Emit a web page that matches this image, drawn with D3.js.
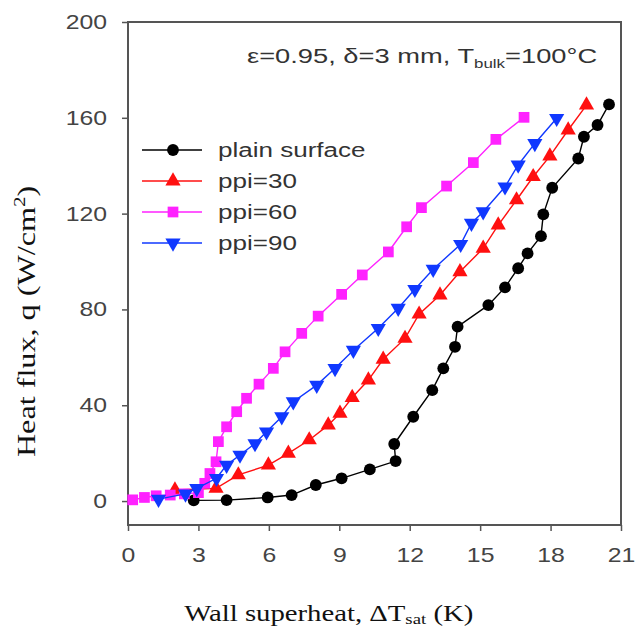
<!DOCTYPE html>
<html>
<head>
<meta charset="utf-8">
<script src="https://cdn.jsdelivr.net/npm/d3@7"></script>
<style>
  body { margin: 0; background: #fff; }
</style>
</head>
<body>
<div id="chart"></div>
<script>
// data
var plainX = [2.8, 4.2, 5.95, 6.97, 8.0, 9.1, 10.3, 11.4, 11.34, 12.15, 12.96, 13.43, 13.93, 14.04, 15.35, 16.06, 16.62, 17.02, 17.59, 17.69, 18.07, 19.18, 19.42, 20.0, 20.49];
var plainQ = [0.3, 0.4, 1.5, 2.5, 6.7, 9.5, 13.2, 16.7, 23.8, 35.2, 46.3, 55.4, 64.4, 72.8, 81.8, 89.2, 97.2, 103.4, 110.6, 119.7, 130.8, 143, 152.1, 157, 165.6];

var ppi30X = [2.0, 3.75, 4.7, 5.98, 6.83, 7.72, 8.53, 9.03, 9.55, 10.24, 10.87, 11.8, 12.4, 13.29, 14.14, 15.13, 15.77, 16.55, 17.26, 17.97, 18.75, 19.53];
var ppi30Q = [4.6, 5.3, 10.9, 15, 19.9, 25.5, 31.7, 36.6, 43.2, 50.5, 59.2, 67.9, 78, 86, 95.7, 105.5, 115.2, 125.7, 135.4, 144, 154.9, 165.3];

var ppi60X = [0.2, 0.7, 1.2, 1.8, 2.4, 3.0, 3.27, 3.49, 3.75, 3.85, 4.2, 4.63, 5.05, 5.58, 6.19, 6.69, 7.4, 8.1, 9.1, 9.98, 11.09, 11.87, 12.5, 13.57, 14.71, 15.67, 16.87];
var ppi60Q = [0.5, 1.5, 2.2, 2.5, 3.0, 3.5, 7.4, 11.5, 16.4, 24.8, 31, 37.3, 42.9, 48.8, 55.4, 62.3, 70, 77.2, 86.3, 94.4, 104, 114.5, 122.5, 131.5, 141.3, 151, 160.2];

var ppi90X = [1.3, 2.45, 2.93, 3.77, 4.2, 4.77, 5.41, 5.9, 6.55, 7.04, 8.04, 8.82, 9.6, 10.66, 11.51, 12.22, 13.0, 14.17, 14.63, 15.13, 16.06, 16.62, 17.33, 18.26];
var ppi90Q = [0.8, 3.0, 5.3, 9.5, 15, 19.2, 24, 28.9, 35.2, 41.5, 48.4, 55.4, 63, 72.1, 80.5, 88.4, 96.8, 107.2, 116, 120.8, 131.2, 140.3, 149.3, 159.8];

var xTicks = [0, 3, 6, 9, 12, 15, 18, 21];
var yTicks = [0, 40, 80, 120, 160, 200];

var seriesNames = ["plain surface", "ppi=30", "ppi=60", "ppi=90"];

var series = [
  {name: seriesNames[0], xs: plainX, qs: plainQ, color: "#000000", shape: "circle"},
  {name: seriesNames[1], xs: ppi30X, qs: ppi30Q, color: "#ff1010", shape: "up"},
  {name: seriesNames[2], xs: ppi60X, qs: ppi60Q, color: "#ff22ff", shape: "square"},
  {name: seriesNames[3], xs: ppi90X, qs: ppi90Q, color: "#1038ff", shape: "down"}
];

// the original picture is stretched sideways, so text gets a wider x scale
var stretch = 1.24;
var sansFont = "Liberation Sans, Arial, sans-serif";
var serifFont = "Liberation Serif, Times New Roman, serif";

// set the dimensions and margins of the graph
var margin = {top: 22, right: 14, bottom: 107, left: 128},
  width = 635 - margin.left - margin.right,
  height = 632 - margin.top - margin.bottom;

var svg = d3.select("#chart")
  .append("svg")
    .attr("width", 635)
    .attr("height", 632)
  .append("g")
    .attr("transform", "translate(" + margin.left + "," + margin.top + ")");

var x = d3.scaleLinear().domain([0, 21]).range([0, width]);
var y = d3.scaleLinear().domain([-10, 200]).range([height, 0]);

// axes
var xAxis = svg.append("g")
  .attr("transform", "translate(0," + height + ")")
  .call(d3.axisBottom(x).tickValues(xTicks).tickSize(6).tickPadding(17).tickFormat(d3.format("d")));
var yAxis = svg.append("g")
  .call(d3.axisLeft(y).tickValues(yTicks).tickSize(6).tickPadding(15).tickFormat(d3.format("d")));

[xAxis, yAxis].forEach(function(a) {
  a.select(".domain").remove();
  a.selectAll("line").attr("stroke", "#555").attr("stroke-width", 1.5);
  a.selectAll("text")
    .style("font-family", sansFont)
    .style("font-size", "20px")
    .attr("fill", "#444")
    .each(function() {
      var t = d3.select(this);
      var tx = +t.attr("x") || 0, ty = +t.attr("y") || 0;
      t.attr("x", 0).attr("y", 0)
        .attr("transform", "translate(" + tx + "," + ty + ") scale(" + stretch + ",1)");
    });
});

// frame
svg.append("rect")
  .attr("x", 0).attr("y", 0)
  .attr("width", width).attr("height", height)
  .attr("fill", "none")
  .attr("stroke", "#555")
  .attr("stroke-width", 2);

var symbolFor = {
  circle: d3.symbol().type(d3.symbolCircle).size(110),
  up: d3.symbol().type(d3.symbolTriangle).size(100),
  square: d3.symbol().type(d3.symbolSquare).size(115),
  down: d3.symbol().type(d3.symbolTriangle).size(100)
};

var line = d3.line()
  .x(function(d) { return x(d[0]); })
  .y(function(d) { return y(d[1]); });

series.forEach(function(s) {
  var pts = s.xs.map(function(v, i) { return [v, s.qs[i]]; });
  svg.append("path")
    .datum(pts)
    .attr("fill", "none")
    .attr("stroke", s.color)
    .attr("stroke-width", 1.4)
    .attr("d", line);
  svg.selectAll(null)
    .data(pts)
    .enter()
    .append("path")
      .attr("d", symbolFor[s.shape])
      .attr("transform", function(d) {
        return "translate(" + x(d[0]) + "," + y(d[1]) + ")" + (s.shape == "down" ? " rotate(180)" : "");
      })
      .attr("fill", s.color);
});

// legend
var legend = svg.append("g").attr("transform", "translate(14,128)");
series.forEach(function(s, i) {
  var g = legend.append("g").attr("transform", "translate(0," + (i * 31) + ")");
  g.append("line")
    .attr("x1", 0).attr("x2", 60)
    .attr("y1", 0).attr("y2", 0)
    .attr("stroke", s.color)
    .attr("stroke-width", 1.4);
  g.append("path")
    .attr("d", symbolFor[s.shape])
    .attr("transform", "translate(31,0)" + (s.shape == "down" ? " rotate(180)" : ""))
    .attr("fill", s.color);
  g.append("text")
    .attr("transform", "translate(76,7) scale(" + stretch + ",1)")
    .style("font-family", sansFont)
    .style("font-size", "21px")
    .attr("fill", "#333")
    .text(s.name);
});

// annotation
var note = svg.append("text")
  .attr("transform", "translate(119,41) scale(1.3,1)")
  .style("font-family", sansFont)
  .style("font-size", "21px")
  .attr("fill", "#333");
note.append("tspan").text("\u03b5=0.95, \u03b4=3 mm, T");
note.append("tspan").attr("dy", 5).style("font-size", "13px").text("bulk");
note.append("tspan").attr("dy", -5).text("=100\u00b0C");

// axis titles
var xTitle = svg.append("text")
  .attr("transform", "translate(" + (x(8.55)) + "," + (height + 96) + ") scale(1.25,1)")
  .attr("text-anchor", "middle")
  .style("font-family", serifFont)
  .style("font-size", "23px")
  .attr("fill", "#111");
xTitle.append("tspan").text("Wall superheat, \u0394T");
xTitle.append("tspan").attr("dy", 3).style("font-size", "15px").text("sat");
xTitle.append("tspan").attr("dy", -3).text(" (K)");

var yTitle = svg.append("text")
  .attr("transform", "translate(-93," + (y(75)) + ") rotate(-90) scale(1.4,1.12)")
  .attr("text-anchor", "middle")
  .style("font-family", serifFont)
  .style("font-size", "23px")
  .attr("fill", "#111");
yTitle.append("tspan").text("Heat flux, q (W/cm");
yTitle.append("tspan").attr("dy", -9).style("font-size", "15px").text("2");
yTitle.append("tspan").attr("dy", 9).text(")");
</script>
</body>
</html>
